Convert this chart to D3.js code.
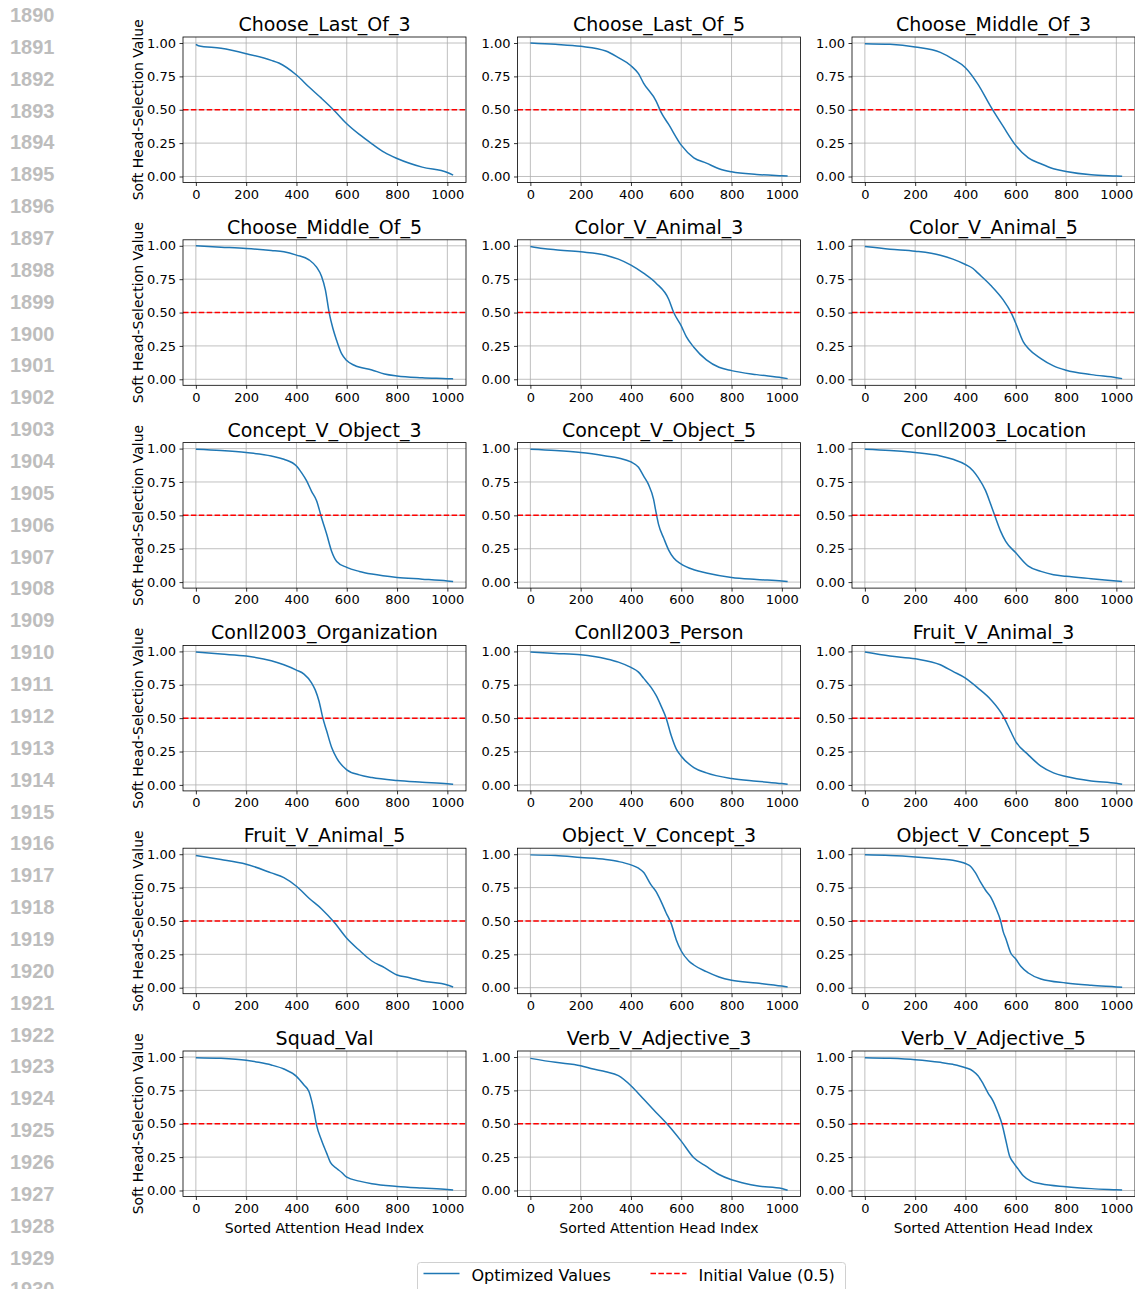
<!DOCTYPE html>
<html>
<head>
<meta charset="utf-8">
<script src="https://cdn.jsdelivr.net/npm/d3@7"></script>
<style>
body { margin: 0; background: #fff; }
text { font-family: "DejaVu Sans", sans-serif; }
</style>
</head>
<body>
<svg class="chart" width="1135" height="1289"></svg>
<script>
var titles = ["Choose_Last_Of_3", "Choose_Last_Of_5", "Choose_Middle_Of_3",
    "Choose_Middle_Of_5", "Color_V_Animal_3", "Color_V_Animal_5",
    "Concept_V_Object_3", "Concept_V_Object_5", "Conll2003_Location",
    "Conll2003_Organization", "Conll2003_Person", "Fruit_V_Animal_3",
    "Fruit_V_Animal_5", "Object_V_Concept_3", "Object_V_Concept_5",
    "Squad_Val", "Verb_V_Adjective_3", "Verb_V_Adjective_5"];

// [sorted head index, soft selection value]
var chooseLastOf3 = [[0,0.99],[10,0.98],[100,0.96],[200,0.92],[300,0.87],[330,0.85],[400,0.76],[450,0.67],[500,0.585],[550,0.495],[600,0.395],[650,0.315],[700,0.245],[750,0.18],[800,0.135],[900,0.07],[1000,0.03],[1023,0.01]];
var chooseLastOf5 = [[0,1.0],[100,0.99],[200,0.975],[300,0.94],[350,0.89],[400,0.83],[430,0.77],[450,0.70],[500,0.565],[520,0.48],[550,0.39],[600,0.235],[650,0.14],[700,0.10],[750,0.058],[800,0.035],[900,0.015],[1000,0.005],[1023,0.003]];
var chooseMiddleOf3 = [[0,0.995],[100,0.99],[200,0.97],[300,0.93],[350,0.88],[400,0.815],[450,0.69],[500,0.525],[550,0.375],[600,0.233],[650,0.14],[700,0.095],[750,0.058],[800,0.038],[900,0.013],[1000,0.004],[1023,0.002]];
var chooseMiddleOf5 = [[0,1.0],[100,0.99],[200,0.98],[300,0.965],[350,0.955],[400,0.93],[450,0.895],[480,0.84],[500,0.77],[515,0.67],[530,0.5],[545,0.38],[560,0.29],[580,0.19],[600,0.14],[630,0.105],[700,0.07],[750,0.04],[800,0.025],[900,0.012],[1000,0.005],[1023,0.003]];
var colorVAnimal3 = [[0,0.995],[50,0.98],[100,0.97],[200,0.955],[300,0.93],[350,0.90],[400,0.855],[450,0.795],[500,0.72],[550,0.6],[570,0.5],[600,0.40],[620,0.32],[650,0.24],[700,0.145],[750,0.09],[800,0.065],[900,0.035],[1000,0.012],[1023,0.005]];
var colorVAnimal5 = [[0,0.995],[100,0.975],[200,0.96],[300,0.93],[350,0.90],[400,0.86],[430,0.83],[450,0.795],[500,0.705],[550,0.595],[580,0.505],[600,0.42],[630,0.28],[650,0.23],[700,0.155],[750,0.10],[800,0.068],[900,0.035],[1000,0.012],[1023,0.005]];
var conceptVObject3 = [[0,0.995],[100,0.985],[200,0.97],[300,0.945],[350,0.92],[400,0.87],[420,0.82],[440,0.76],[460,0.68],[480,0.61],[500,0.48],[520,0.36],[540,0.23],[560,0.155],[600,0.11],[650,0.08],[700,0.06],[800,0.035],[900,0.022],[1000,0.008],[1023,0.004]];
var conceptVObject5 = [[0,0.995],[100,0.985],[200,0.97],[300,0.945],[350,0.93],[400,0.90],[430,0.86],[450,0.795],[470,0.73],[490,0.62],[500,0.52],[510,0.43],[530,0.33],[550,0.24],[570,0.18],[600,0.135],[650,0.093],[700,0.068],[800,0.035],[900,0.02],[1000,0.008],[1023,0.004]];
var conll2003Location = [[0,0.995],[100,0.985],[200,0.97],[300,0.945],[350,0.92],[400,0.88],[430,0.835],[450,0.785],[480,0.685],[500,0.585],[520,0.48],[540,0.38],[560,0.305],[600,0.22],[650,0.12],[700,0.08],[750,0.055],[800,0.043],[900,0.025],[1000,0.008],[1023,0.004]];
var conll2003Organization = [[0,0.995],[100,0.98],[200,0.965],[300,0.93],[350,0.90],[400,0.86],[430,0.83],[460,0.765],[475,0.71],[490,0.625],[505,0.5],[520,0.405],[540,0.28],[560,0.20],[600,0.113],[650,0.075],[700,0.055],[800,0.033],[900,0.02],[1000,0.008],[1023,0.004]];
var conll2003Person = [[0,0.995],[100,0.985],[200,0.975],[300,0.945],[350,0.92],[400,0.88],[430,0.845],[450,0.80],[480,0.73],[500,0.67],[520,0.59],[540,0.5],[560,0.37],[580,0.27],[600,0.215],[650,0.13],[700,0.09],[800,0.048],[900,0.028],[1000,0.01],[1023,0.005]];
var fruitVAnimal3 = [[0,0.995],[100,0.965],[200,0.945],[300,0.90],[350,0.85],[400,0.80],[450,0.725],[500,0.64],[550,0.515],[580,0.40],[600,0.325],[650,0.225],[700,0.14],[750,0.09],[800,0.063],[900,0.03],[1000,0.012],[1023,0.005]];
var fruitVAnimal5 = [[0,0.99],[50,0.975],[100,0.96],[200,0.925],[300,0.86],[350,0.825],[400,0.76],[450,0.67],[500,0.59],[550,0.49],[600,0.37],[650,0.28],[700,0.20],[750,0.15],[800,0.095],[850,0.075],[900,0.05],[1000,0.02],[1023,0.005]];
var objectVConcept3 = [[0,0.995],[100,0.99],[200,0.975],[300,0.96],[350,0.945],[400,0.92],[430,0.895],[450,0.865],[480,0.77],[500,0.72],[520,0.645],[540,0.56],[560,0.48],[580,0.36],[600,0.275],[630,0.2],[650,0.17],[700,0.12],[750,0.08],[800,0.055],[900,0.035],[1000,0.012],[1023,0.005]];
var objectVConcept5 = [[0,0.995],[100,0.99],[200,0.98],[300,0.965],[350,0.955],[400,0.93],[420,0.91],[440,0.86],[460,0.79],[480,0.73],[500,0.68],[520,0.6],[540,0.5],[550,0.42],[560,0.37],[580,0.26],[600,0.215],[620,0.16],[650,0.11],[700,0.065],[800,0.035],[900,0.018],[1000,0.006],[1023,0.003]];
var squadVal = [[0,0.995],[100,0.99],[200,0.975],[250,0.96],[300,0.94],[350,0.91],[400,0.855],[430,0.79],[450,0.74],[460,0.675],[470,0.59],[480,0.49],[500,0.375],[520,0.28],[535,0.21],[560,0.165],[580,0.135],[600,0.10],[650,0.07],[700,0.05],[800,0.03],[900,0.018],[1000,0.008],[1023,0.004]];
var verbVAdjective3 = [[0,0.99],[100,0.96],[200,0.935],[250,0.91],[300,0.89],[350,0.86],[400,0.785],[450,0.685],[500,0.585],[550,0.485],[600,0.37],[650,0.245],[700,0.18],[750,0.12],[800,0.08],[850,0.055],[900,0.035],[1000,0.015],[1023,0.002]];
var verbVAdjective5 = [[0,0.995],[100,0.99],[200,0.98],[300,0.96],[350,0.945],[400,0.92],[430,0.895],[450,0.86],[470,0.80],[490,0.73],[510,0.67],[530,0.58],[545,0.5],[560,0.38],[575,0.26],[590,0.21],[610,0.16],[630,0.11],[660,0.07],[700,0.05],[800,0.028],[900,0.014],[1000,0.005],[1023,0.003]];

var allSeries = [chooseLastOf3, chooseLastOf5, chooseMiddleOf3, chooseMiddleOf5,
    colorVAnimal3, colorVAnimal5, conceptVObject3, conceptVObject5, conll2003Location,
    conll2003Organization, conll2003Person, fruitVAnimal3, fruitVAnimal5,
    objectVConcept3, objectVConcept5, squadVal, verbVAdjective3, verbVAdjective5];

var xTicks = [0, 200, 400, 600, 800, 1000];
var yTicks = [0, 0.25, 0.5, 0.75, 1.0];
var initialValue = 0.5;
var legendLabels = ["Optimized Values", "Initial Value (0.5)"];
var lineNumbers = d3.range(1890, 1931); // margin line numbers of the page

var panelW = 283, panelH = 145.5;
var colLeft = [183, 517.5, 852];
var rowTop = 37, rowStep = 202.8;
var blue = "#1f77b4", red = "#ff0000";

var chart = d3.select(".chart");

// page line numbers on the left
chart.append("g").selectAll("text")
    .data(lineNumbers)
    .enter().append("text")
    .attr("x", 10)
    .attr("y", function(d, i) { return 22 + i * 31.86; })
    .style("font-family", "'Liberation Sans', Arial, sans-serif")
    .style("font-weight", "bold")
    .style("font-size", "20px")
    .style("fill", "#bdbdbd")
    .text(function(d) { return d; });

var x = d3.scaleLinear()
    .domain([-51.15, 1074.15])
    .range([0, panelW]);

var y = d3.scaleLinear()
    .domain([-0.045, 1.045])
    .range([panelH, 0]);

var line = d3.line()
    .x(function(d) { return x(d[0]); })
    .y(function(d) { return y(d[1]); })
    .curve(d3.curveMonotoneX);

allSeries.forEach(function(series, k) {
    var col = k % 3, row = Math.floor(k / 3);
    var main = chart.append("g")
        .attr("transform", "translate(" + colLeft[col] + "," + (rowTop + row * rowStep) + ")");

    // grid
    main.append("g").selectAll("line")
        .data(xTicks)
        .enter().append("line")
        .attr("x1", function(d) { return x(d); })
        .attr("x2", function(d) { return x(d); })
        .attr("y1", 0).attr("y2", panelH)
        .style("stroke", "#b0b0b0").style("stroke-width", 0.8);
    main.append("g").selectAll("line")
        .data(yTicks)
        .enter().append("line")
        .attr("y1", function(d) { return y(d); })
        .attr("y2", function(d) { return y(d); })
        .attr("x1", 0).attr("x2", panelW)
        .style("stroke", "#b0b0b0").style("stroke-width", 0.8);

    main.append("path")
        .datum(series)
        .attr("d", line)
        .style("fill", "none")
        .style("stroke", blue)
        .style("stroke-width", 1.5);

    main.append("line")
        .attr("x1", 0).attr("x2", panelW)
        .attr("y1", y(initialValue)).attr("y2", y(initialValue))
        .style("stroke", red)
        .style("stroke-width", 1.5)
        .style("stroke-dasharray", "5.5,2.4");

    // spines
    main.append("rect")
        .attr("width", panelW).attr("height", panelH)
        .style("fill", "none").style("stroke", "#000").style("stroke-width", 0.8);

    var xAxis = d3.axisBottom(x)
        .tickValues(xTicks)
        .tickFormat(d3.format("d"))
        .tickSize(3.5)
        .tickPadding(3.5);
    var gx = main.append("g")
        .attr("transform", "translate(0," + panelH + ")")
        .call(xAxis);

    var yAxis = d3.axisLeft(y)
        .tickValues(yTicks)
        .tickFormat(d3.format(".2f"))
        .tickSize(3.5)
        .tickPadding(3.5);
    var gy = main.append("g").call(yAxis);

    [gx, gy].forEach(function(g) {
        g.select(".domain").remove();
        g.selectAll("line").style("stroke", "#000").style("stroke-width", 0.8);
        g.selectAll("text")
            .attr("font-family", "DejaVu Sans, sans-serif")
            .attr("font-size", "13px")
            .style("fill", "#000");
    });

    main.append("text")
        .attr("x", panelW / 2)
        .attr("y", -6)
        .attr("text-anchor", "middle")
        .style("font-size", "19px")
        .text(titles[k]);

    if (col == 0) {
        main.append("text")
            .attr("transform", "translate(-40," + (panelH / 2) + ") rotate(-90)")
            .attr("text-anchor", "middle")
            .style("font-size", "14px")
            .text("Soft Head-Selection Value");
    }
    if (row == 5) {
        main.append("text")
            .attr("x", panelW / 2)
            .attr("y", panelH + 36)
            .attr("text-anchor", "middle")
            .style("font-size", "14px")
            .text("Sorted Attention Head Index");
    }
});

// legend
var legend = chart.append("g").attr("transform", "translate(417.5,1262.5)");
legend.append("rect")
    .attr("width", 428).attr("height", 45).attr("rx", 3)
    .style("fill", "#fff").style("stroke", "#d0d0d0").style("stroke-width", 1);
legend.append("line")
    .attr("x1", 6).attr("x2", 42).attr("y1", 11).attr("y2", 11)
    .style("stroke", blue).style("stroke-width", 1.5);
legend.append("line")
    .attr("x1", 233).attr("x2", 269).attr("y1", 11).attr("y2", 11)
    .style("stroke", red).style("stroke-width", 1.5)
    .style("stroke-dasharray", "5.5,2.4");
legend.selectAll(".lab")
    .data(legendLabels)
    .enter().append("text")
    .attr("x", function(d, i) { return i == 0 ? 54 : 281; })
    .attr("y", 18.5)
    .style("font-size", "16px")
    .text(function(d) { return d; });
</script>
</body>
</html>
